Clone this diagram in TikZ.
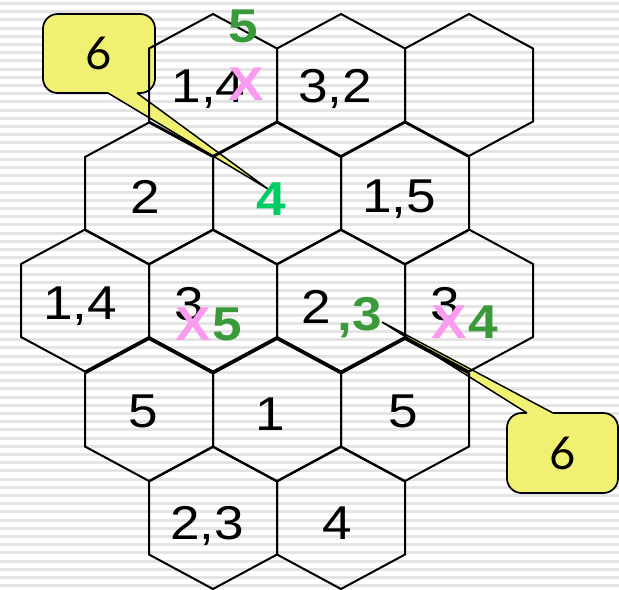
\documentclass[tikz,border=0pt]{standalone}
\usepackage{fontspec}
\setmainfont{Liberation Sans}[FakeStretch=1.12]
\newfontfamily\calloutfont{Lato}
\definecolor{stripe}{RGB}{228,228,228}
\definecolor{cyellow}{RGB}{240,240,115}
\definecolor{dgreen}{RGB}{58,154,58}
\definecolor{bgreen}{RGB}{0,204,102}
\definecolor{pinkx}{RGB}{250,155,240}
\tikzset{
  hexline/.style={draw=black, line width=1.5pt, line join=miter},
  hexcell/.pic={\path[hexline] (0,-71) -- (64,-36.5) -- (64,36.5) -- (0,71) -- (-64,36.5) -- (-64,-36.5) -- cycle;},
  blk/.style={anchor=base, inner sep=0pt, text=black, font=\fontsize{35.6pt}{40pt}\selectfont},
  grn/.style={anchor=base, inner sep=0pt, text=dgreen, font=\fontsize{35.6pt}{40pt}\selectfont\bfseries},
  bgr/.style={anchor=base, inner sep=0pt, text=bgreen, font=\fontsize{35.6pt}{40pt}\selectfont\bfseries},
  pnk/.style={anchor=base, inner sep=0pt, text=pinkx, font=\fontsize{35.6pt}{40pt}\selectfont\bfseries},
  callbox/.style={draw=black, line width=1.3pt, fill=cyellow, rounded corners=11pt, inner sep=0pt,
     font=\calloutfont\fontsize{34pt}{40pt}\selectfont},
  callptr/.style={fill=cyellow},
  calledge/.style={draw=black, line width=1.1pt, line join=miter}
}
\begin{document}
\begin{tikzpicture}[x=0.75pt,y=-0.75pt]
\useasboundingbox (0,0) rectangle (619,590);
\fill[white] (0,0) rectangle (619,590);
\foreach \i in {0,...,72} {\fill[stripe] (0,{\i*8.2+2}) rectangle (619,{\i*8.2+5});}

% callouts
\node[callbox, minimum width=84pt, minimum height=59.25pt] (c1) at (99,53.5) {\raisebox{-3.4pt}{6}};
\coordinate (c1a) at (108,93);
\coordinate (c1b) at (137,93);
\coordinate (c1t) at (268,189);
\fill[callptr] ([yshift=2pt]c1a) -- (c1a) -- (c1t) -- (c1b) -- ([yshift=2pt]c1b) -- cycle;
\draw[calledge] (c1a) -- (c1t) -- (c1b);

\node[callbox, minimum width=83.25pt, minimum height=60pt] (c2) at (562.5,453) {\raisebox{-3.4pt}{6}};
\coordinate (c2a) at (527,413);
\coordinate (c2b) at (553,413);
\coordinate (c2t) at (382,322);
\fill[callptr] ([yshift=-2pt]c2a) -- (c2a) -- (c2t) -- (c2b) -- ([yshift=-2pt]c2b) -- cycle;
\draw[calledge] (c2a) -- (c2t) -- (c2b);

% hexagons
\foreach \x in {213,341,469} {\pic at (\x,85) {hexcell};}
\foreach \x in {149,277,405} {\pic at (\x,193.5) {hexcell};}
\foreach \x in {85,213,341,469} {\pic at (\x,300.5) {hexcell};}
\foreach \x in {149,277,405} {\pic at (\x,410) {hexcell};}
\foreach \x in {213,341} {\pic at (\x,518) {hexcell};}

% row 1
\node[grn] (g5top) at (243,42) {5};
\node[blk] (t14a) at (208.5,102) {1,4};
\node[pnk] (x1) at (246,100) {X};
\node[blk] (t32) at (335,102) {3,2};
% row 2
\node[blk] (t2) at (145,213) {2};
\node[bgr] (g4) at (271,215) {4};
\node[blk] (t15) at (399,212) {1,5};
% row 3
\node[blk] (t14b) at (80,319) {1,4};
\node[blk] (t3a) at (189,320) {3};
\node[pnk] (x2) at (193,340) {X};
\node[grn] (g5b) at (227,340) {5};
\node[blk] (t2b) at (316,323) {2};
\node[grn] (g3) at (360,330) {,3};
\node[blk] (t3b) at (445,320) {3};
\node[pnk] (x3) at (449,338) {X};
\node[grn] (g4b) at (483,338) {4};
% row 4
\node[blk] (t5a) at (143,427) {5};
\node[blk] (t1) at (270,430) {1};
\node[blk] (t5b) at (403,427) {5};
% row 5
\node[blk] (t23) at (207,539) {2,3};
\node[blk] (t4) at (337,539) {4};
\end{tikzpicture}
\end{document}
